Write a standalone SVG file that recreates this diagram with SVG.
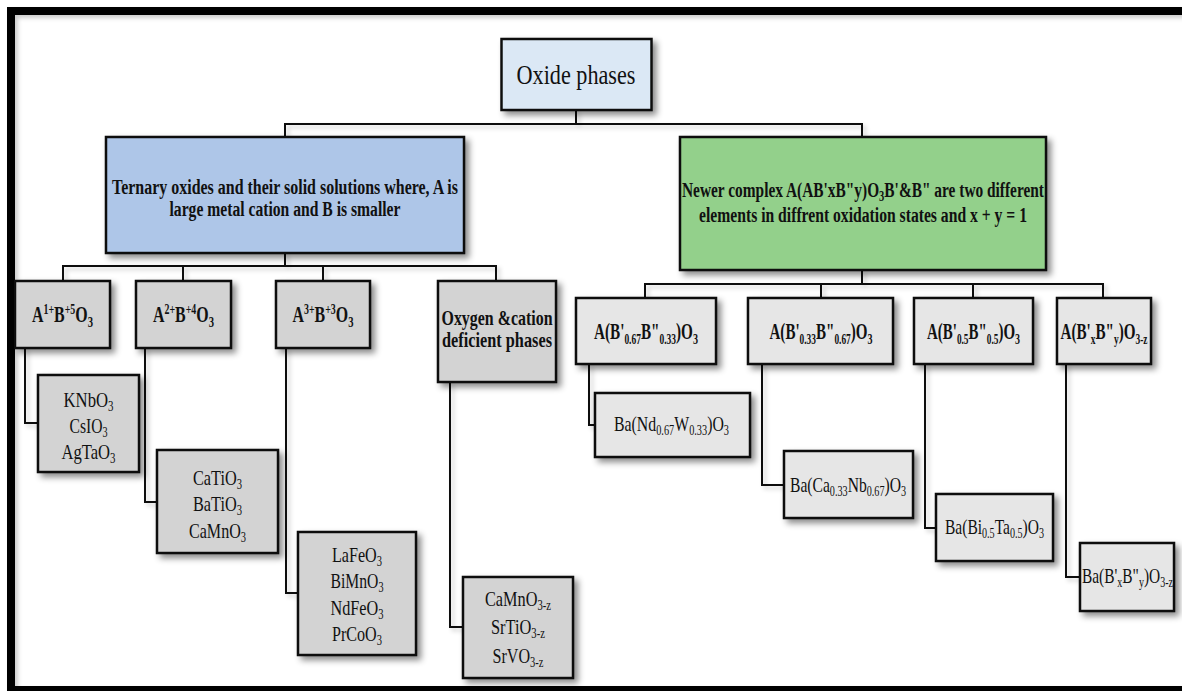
<svg xmlns="http://www.w3.org/2000/svg" width="1182" height="691" viewBox="0 0 1182 691">
  <defs>
    <filter id="shadow" filterUnits="userSpaceOnUse" x="0" y="0" width="1182" height="691">
      <feDropShadow dx="4" dy="4" stdDeviation="3" flood-color="#000" flood-opacity="0.45"/>
    </filter>
    <filter id="lineShadow" filterUnits="userSpaceOnUse" x="0" y="0" width="1182" height="691">
      <feDropShadow dx="3" dy="3" stdDeviation="2" flood-color="#000" flood-opacity="0.2"/>
    </filter>
  </defs>
  <style>
    .box{stroke:#111;stroke-width:2.5;filter:url(#shadow)}
    .root{fill:#dbe8f5}
    .blue{fill:#aec6e8}
    .green{fill:#93d08b}
    .grey{fill:#d3d3d3}
    .light{fill:#e6e6e6}
    text{font-family:"Liberation Serif","Times New Roman",serif;fill:#111;text-anchor:middle}
    .b{font-weight:bold}
    .hd{font-size:20.5px}
    .l2{font-size:22.5px}
    .l3{font-size:21.5px}
    .s{font-size:14px}
    .s2{font-size:15px}
    #connectors path{fill:none;stroke:#111;stroke-width:2}
  </style>

  <rect width="1182" height="691" fill="#fff"/>

  <!-- outer frame -->
  <rect x="11" y="11" width="1190" height="679" fill="none" stroke="#000" stroke-width="8" filter="url(#lineShadow)"/>

  <!-- tree connectors -->
  <g id="connectors" filter="url(#lineShadow)">
    <path d="M576 110V124M285 137V124H862V137"/>
    <path d="M285 253V266M63 281V266H496V281M183 266V281M323 266V281"/>
    <path d="M862 270V284M645 298V284H1103V298M821 284V298M973 284V298"/>
    <path d="M25 348V423H38"/>
    <path d="M145 348V502H157"/>
    <path d="M286 348V593H298"/>
    <path d="M450 382V627H463"/>
    <path d="M589 364V425H595"/>
    <path d="M762 364V485H784"/>
    <path d="M925 364V528H936"/>
    <path d="M1066 364V577H1080"/>
  </g>

  <g id="oxide-phases">
    <rect class="box root" x="501.5" y="39" width="150" height="71"/>
    <text x="576" y="83.5" font-size="28" textLength="119" lengthAdjust="spacingAndGlyphs">Oxide phases</text>
  </g>

  <g id="ternary">
    <rect class="box blue" x="106" y="137" width="358" height="116"/>
    <text class="b hd" x="285" y="194" textLength="346" lengthAdjust="spacingAndGlyphs">Ternary oxides and their solid solutions where, A is</text>
    <text class="b hd" x="285" y="216" textLength="231" lengthAdjust="spacingAndGlyphs">large metal cation and B is smaller</text>
  </g>

  <g id="complex">
    <rect class="box green" x="680" y="137" width="366" height="133"/>
    <text class="b hd" x="863" y="197" textLength="362" lengthAdjust="spacingAndGlyphs">Newer complex A(AB'xB"y)O<tspan class="s" dy="4">3</tspan><tspan dy="-4">B'&amp;B" are two different</tspan></text>
    <text class="b hd" x="863" y="222" textLength="328" lengthAdjust="spacingAndGlyphs">elements in diffrent oxidation states and x + y = 1</text>
  </g>

  <g id="a1b5">
    <rect class="box grey" x="15" y="281" width="95" height="67"/>
    <text class="b l2" x="62.5" y="322" textLength="61" lengthAdjust="spacingAndGlyphs">A<tspan class="s" dy="-8">1+</tspan><tspan dy="8">B</tspan><tspan class="s" dy="-8">+5</tspan><tspan dy="8">O</tspan><tspan class="s2" dy="5">3</tspan></text>
  </g>

  <g id="a2b4">
    <rect class="box grey" x="136" y="281" width="95" height="67"/>
    <text class="b l2" x="183.5" y="322" textLength="61" lengthAdjust="spacingAndGlyphs">A<tspan class="s" dy="-8">2+</tspan><tspan dy="8">B</tspan><tspan class="s" dy="-8">+4</tspan><tspan dy="8">O</tspan><tspan class="s2" dy="5">3</tspan></text>
  </g>

  <g id="a3b3">
    <rect class="box grey" x="276" y="281" width="94" height="67"/>
    <text class="b l2" x="323" y="322" textLength="61" lengthAdjust="spacingAndGlyphs">A<tspan class="s" dy="-8">3+</tspan><tspan dy="8">B</tspan><tspan class="s" dy="-8">+3</tspan><tspan dy="8">O</tspan><tspan class="s2" dy="5">3</tspan></text>
  </g>

  <g id="deficient">
    <rect class="box grey" x="438" y="281" width="118" height="101"/>
    <text class="b" x="497" y="325" font-size="21.5" textLength="111" lengthAdjust="spacingAndGlyphs">Oxygen &amp;cation</text>
    <text class="b" x="497" y="347" font-size="21.5" textLength="110" lengthAdjust="spacingAndGlyphs">deficient phases</text>
  </g>

  <g id="b067">
    <rect class="box light" x="576" y="298" width="140" height="66"/>
    <text class="b l2" x="646" y="339" textLength="104" lengthAdjust="spacingAndGlyphs">A(B'<tspan class="s" dy="5">0.67</tspan><tspan dy="-5">B"</tspan><tspan class="s" dy="5">0.33</tspan><tspan dy="-5">)O</tspan><tspan class="s2" dy="5">3</tspan></text>
  </g>

  <g id="b033">
    <rect class="box light" x="748" y="298" width="145" height="66"/>
    <text class="b l2" x="821" y="339" textLength="103" lengthAdjust="spacingAndGlyphs">A(B'<tspan class="s" dy="5">0.33</tspan><tspan dy="-5">B"</tspan><tspan class="s" dy="5">0.67</tspan><tspan dy="-5">)O</tspan><tspan class="s2" dy="5">3</tspan></text>
  </g>

  <g id="b05">
    <rect class="box light" x="914" y="298" width="119" height="66"/>
    <text class="b l2" x="973.5" y="339" textLength="93" lengthAdjust="spacingAndGlyphs">A(B'<tspan class="s" dy="5">0.5</tspan><tspan dy="-5">B"</tspan><tspan class="s" dy="5">0.5</tspan><tspan dy="-5">)O</tspan><tspan class="s2" dy="5">3</tspan></text>
  </g>

  <g id="bxy">
    <rect class="box light" x="1057" y="298" width="94" height="66"/>
    <text class="b l2" x="1104" y="339" textLength="87" lengthAdjust="spacingAndGlyphs">A(B'<tspan class="s" dy="5">x</tspan><tspan dy="-5">B"</tspan><tspan class="s" dy="5">y</tspan><tspan dy="-5">)O</tspan><tspan class="s" dy="5">3-z</tspan></text>
  </g>

  <g id="ex-a1b5">
    <rect class="box grey" x="38" y="375" width="101" height="97"/>
    <text class="l3" x="88.5" y="406.5" textLength="50" lengthAdjust="spacingAndGlyphs">KNbO<tspan class="s" dy="4">3</tspan></text>
    <text class="l3" x="88.5" y="433" textLength="38" lengthAdjust="spacingAndGlyphs">CsIO<tspan class="s" dy="4">3</tspan></text>
    <text class="l3" x="88.5" y="459" textLength="54" lengthAdjust="spacingAndGlyphs">AgTaO<tspan class="s" dy="4">3</tspan></text>
  </g>

  <g id="ex-a2b4">
    <rect class="box grey" x="157" y="450" width="121" height="103"/>
    <text class="l3" x="217.5" y="484.5" textLength="49" lengthAdjust="spacingAndGlyphs">CaTiO<tspan class="s" dy="4">3</tspan></text>
    <text class="l3" x="217.5" y="511" textLength="49" lengthAdjust="spacingAndGlyphs">BaTiO<tspan class="s" dy="4">3</tspan></text>
    <text class="l3" x="217.5" y="537.5" textLength="57" lengthAdjust="spacingAndGlyphs">CaMnO<tspan class="s" dy="4">3</tspan></text>
  </g>

  <g id="ex-a3b3">
    <rect class="box grey" x="298" y="532" width="118" height="123"/>
    <text class="l3" x="357" y="561.5" textLength="50" lengthAdjust="spacingAndGlyphs">LaFeO<tspan class="s" dy="4">3</tspan></text>
    <text class="l3" x="357" y="588" textLength="53" lengthAdjust="spacingAndGlyphs">BiMnO<tspan class="s" dy="4">3</tspan></text>
    <text class="l3" x="357" y="614.5" textLength="53" lengthAdjust="spacingAndGlyphs">NdFeO<tspan class="s" dy="4">3</tspan></text>
    <text class="l3" x="357" y="641" textLength="50" lengthAdjust="spacingAndGlyphs">PrCoO<tspan class="s" dy="4">3</tspan></text>
  </g>

  <g id="ex-deficient">
    <rect class="box grey" x="463" y="577" width="110" height="101"/>
    <text class="l3" x="518" y="606" textLength="66" lengthAdjust="spacingAndGlyphs">CaMnO<tspan class="s" dy="4">3-z</tspan></text>
    <text class="l3" x="518" y="634" textLength="54" lengthAdjust="spacingAndGlyphs">SrTiO<tspan class="s" dy="4">3-z</tspan></text>
    <text class="l3" x="518" y="662.5" textLength="51" lengthAdjust="spacingAndGlyphs">SrVO<tspan class="s" dy="4">3-z</tspan></text>
  </g>

  <g id="ex-b067">
    <rect class="box light" x="595" y="393" width="155" height="64"/>
    <text class="l3" x="671.5" y="430.5" textLength="115" lengthAdjust="spacingAndGlyphs">Ba(Nd<tspan class="s" dy="4">0.67</tspan><tspan dy="-4">W</tspan><tspan class="s" dy="4">0.33</tspan><tspan dy="-4">)O</tspan><tspan class="s" dy="4">3</tspan></text>
  </g>

  <g id="ex-b033">
    <rect class="box light" x="784" y="451" width="129" height="67"/>
    <text class="l3" x="848" y="492" textLength="116" lengthAdjust="spacingAndGlyphs">Ba(Ca<tspan class="s" dy="4">0.33</tspan><tspan dy="-4">Nb</tspan><tspan class="s" dy="4">0.67</tspan><tspan dy="-4">)O</tspan><tspan class="s" dy="4">3</tspan></text>
  </g>

  <g id="ex-b05">
    <rect class="box light" x="936" y="494" width="117" height="67"/>
    <text class="l3" x="994.5" y="533.5" textLength="99" lengthAdjust="spacingAndGlyphs">Ba(Bi<tspan class="s" dy="4">0.5</tspan><tspan dy="-4">Ta</tspan><tspan class="s" dy="4">0.5</tspan><tspan dy="-4">)O</tspan><tspan class="s" dy="4">3</tspan></text>
  </g>

  <g id="ex-bxy">
    <rect class="box light" x="1080" y="543" width="94" height="68"/>
    <text class="l3" x="1127.5" y="583" textLength="91" lengthAdjust="spacingAndGlyphs">Ba(B'<tspan class="s" dy="4">x</tspan><tspan dy="-4">B"</tspan><tspan class="s" dy="4">y</tspan><tspan dy="-4">)O</tspan><tspan class="s" dy="4">3-z</tspan></text>
  </g>
</svg>
